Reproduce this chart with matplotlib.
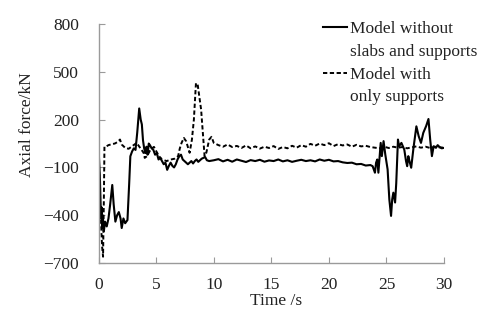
import matplotlib
matplotlib.use("Agg")
import matplotlib.pyplot as plt
from matplotlib.lines import Line2D

# time (s) and axial force (kN)
t_solid = [0.0, 0.1, 0.2, 0.25, 0.3, 0.35, 0.45, 0.55, 0.7, 0.85, 1.0, 1.18, 1.3, 1.45,
           1.6, 1.75, 1.9, 2.0, 2.15, 2.3, 2.5, 2.65, 2.75, 2.9, 3.05, 3.2, 3.35, 3.52,
           3.65, 3.75, 3.85, 3.95, 4.05, 4.15, 4.25, 4.35, 4.45, 4.6, 4.75, 4.9, 5.05,
           5.2, 5.35, 5.5, 5.65, 5.8, 5.95, 6.1, 6.25, 6.4, 6.55, 6.7, 6.85, 7.0, 7.15,
           7.3, 7.45, 7.6, 7.75, 7.9, 8.05, 8.2, 8.35, 8.5, 8.65, 8.8, 8.95, 9.1, 9.25,
           9.4, 9.6,
           10.0, 10.4, 10.8, 11.2, 11.6, 12.0, 12.4, 12.8, 13.2, 13.6, 14.0, 14.4, 14.8,
           15.2, 15.6, 16.0, 16.4, 16.8, 17.2, 17.6, 18.0, 18.4, 18.8, 19.2, 19.6, 20.0,
           20.4, 20.8, 21.2, 21.6, 22.0, 22.4, 22.8, 23.2, 23.6,
           23.8, 24.0, 24.1, 24.2, 24.3, 24.4, 24.5, 24.6, 24.75, 24.9, 25.1, 25.25,
           25.4, 25.5, 25.6, 25.75, 25.85, 26.0, 26.1, 26.3, 26.55, 26.7, 26.8, 26.9,
           27.0, 27.15, 27.35, 27.6, 27.8, 28.0, 28.2, 28.45, 28.65, 28.8, 28.95, 29.1,
           29.3, 29.45, 29.6, 29.8, 30.0]
f_solid = [0, -150, -420, -350, -480, -400, -500, -440, -470, -420, -330, -210, -330, -440,
           -400, -380, -420, -480, -420, -450, -430, -200, -30, 0, 20, 10, 120, 270,
           200, 170, 70, 20, -10, 30, -20, 50, 40, 20, 10, -20, -10,
           -50, -40, -60, -80, -70, -115, -90, -70, -90, -100, -80, -50, -30, -20,
           -50, -60, -70, -80, -70, -60, -75, -60, -50, -65, -55, -45, -40, -35,
           -55, -60,
           -55, -48, -62, -52, -64, -50, -58, -66, -54, -60, -52, -64, -56,
           -60, -50, -62, -55, -65, -58, -52, -60, -55, -62, -50, -58, -52,
           -62, -60, -68, -72, -70, -80, -78, -88, -85,
           -92, -133, -70, -50, -133, -40, 54, -29, 65, -19, -112, -300,
           -404, -300, -258, -320, -200, 75, 33, 54, 12, -60, -92, -29,
           -60, -102, 23, 158, 96, 54, 117, 160, 204, 75, -29, 33,
           23, 40, 29, 20, 23]

t_dashed = [0.0, 0.1, 0.2, 0.3, 0.38, 0.45, 0.5, 0.6, 0.85, 1.1, 1.4, 1.65, 1.85, 2.0,
            2.3, 2.6, 3.0, 3.3, 3.6, 3.9, 4.0, 4.2, 4.5, 4.8, 5.0, 5.25, 5.5, 5.9, 6.3,
            6.6, 6.9, 7.05, 7.2, 7.4, 7.6, 7.9, 8.1, 8.27, 8.45, 8.6, 8.7, 8.9, 9.07,
            9.2, 9.35, 9.6, 9.8, 10.0,
            10.4, 10.8, 11.2, 11.6, 12.0, 12.4, 12.8, 13.2, 13.6, 14.0, 14.4, 14.8,
            15.2, 15.6, 16.0, 16.4, 16.8, 17.2, 17.6, 18.0, 18.4, 18.8, 19.2, 19.6,
            20.0, 20.4, 20.8, 21.2, 21.6, 22.0, 22.4, 22.8, 23.2, 23.6, 24.0, 24.4,
            24.8, 25.2, 25.6, 26.0, 26.4, 26.8, 27.2, 27.6, 28.0, 28.4, 28.8, 29.2,
            29.6, 30.0]
f_dashed = [0, -300, -450, -600, -660, -300, 30, 29, 40, 45, 50, 60, 75, 44,
            23, 17, 38, 54, 23, -8, -40, -29, 12, 29, 2, -30, -50, -60, -50,
            -45, -29, 20, 54, 85, 64, -8, 75, 200, 429, 420, 367, 262, 96,
            -29, -8, 75, 92, 54,
            40, 30, 44, 28, 35, 22, 38, 20, 32, 18, 30, 22,
            34, 16, 28, 20, 36, 24, 40, 30, 48, 36, 50, 40,
            52, 34, 46, 38, 44, 30, 42, 32, 36, 28, 24, 20,
            30, 22, 30, 24, 28, 20, 26, 32, 24, 30, 22, 30,
            26, 24]

x_ticks = [0, 5, 10, 15, 20, 25, 30]
y_ticks = [-700, -400, -100, 200, 500, 800]

plt.rcParams["font.family"] = ["Liberation Serif", "DejaVu Serif"]

fig = plt.figure(figsize=(4.8, 3.24), dpi=100)
ax = fig.add_axes([0.2056, 0.188, 0.7194, 0.738])

ax.plot(t_solid, f_solid, color="black", lw=1.5)
ax.plot(t_dashed, f_dashed, color="black", lw=1.4, linestyle=(0, (2.2, 1.3)))

ax.set_xlim(0, 30)
ax.set_ylim(-700, 800)
ax.set_xticks(x_ticks)
ax.set_yticks(y_ticks)

for side in ["top", "right"]:
    ax.spines[side].set_visible(False)
for side in ["left", "bottom"]:
    ax.spines[side].set_color("#9a9a9a")
    ax.spines[side].set_linewidth(1.0)

ax.tick_params(axis="x", direction="in", length=4, color="#9a9a9a", pad=10,
               labelsize=12.5, labelcolor="#222222")
ax.tick_params(axis="y", direction="in", length=4, color="#9a9a9a", pad=14,
               labelsize=12.5, labelcolor="#222222")

ax.set_xlabel("Time /s", fontsize=12.5, color="#222222", labelpad=0)
ax.set_ylabel("Axial force/kN", fontsize=12.5, color="#222222")
ax.yaxis.set_label_coords(-0.184, 0.58)
ax.xaxis.set_label_coords(0.515, -0.125)

# legend: each label split over two rows, handle on the first row
blank = Line2D([], [], color="none")
handles = [Line2D([], [], color="black", lw=1.5), blank,
           Line2D([], [], color="black", lw=1.4, linestyle=(0, (2.2, 1.3))), blank]
labels = ["Model without", "slabs and supports", "Model with", "only supports"]
fig.legend(handles, labels, loc="upper left", bbox_to_anchor=(0.655, 0.962),
           frameon=False, fontsize=12.5, handlelength=1.35, handletextpad=0.2,
           labelspacing=0.38, borderpad=0, labelcolor="#222222")

fig.savefig("out.png", dpi=100)
